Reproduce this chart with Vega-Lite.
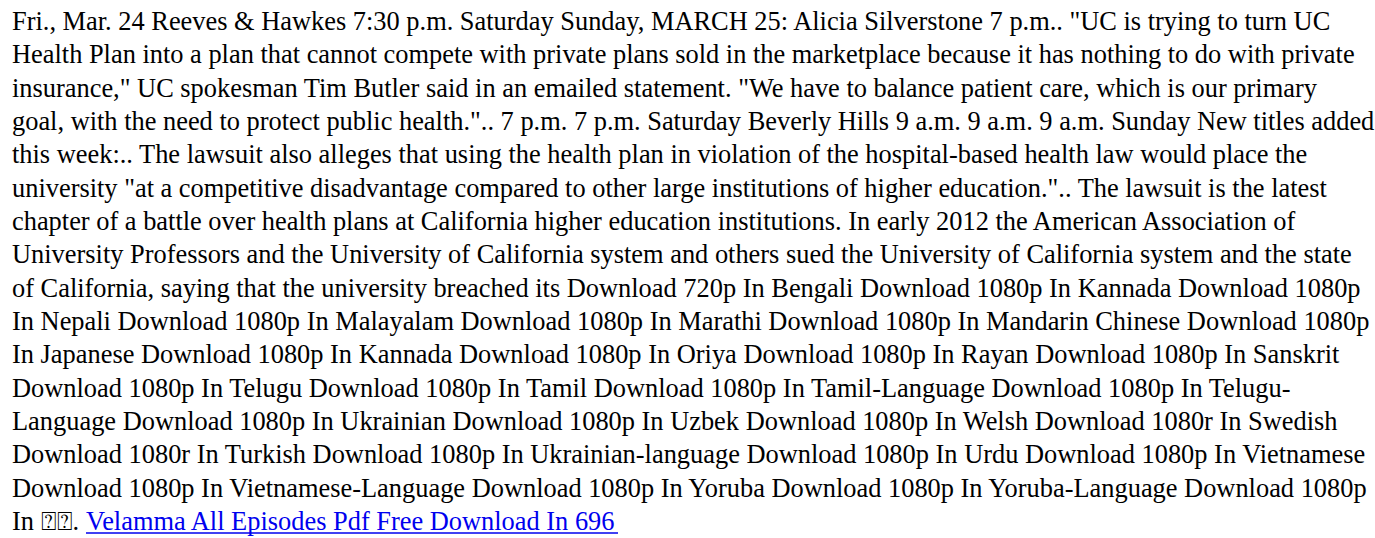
{
  "$schema": "https://vega.github.io/schema/vega-lite/v6.json",
  "autosize": {"type": "fit", "contains": "padding"},
  "width": 1375,
  "height": 538,
  "padding": 0,
  "background": "white",
  "config": {"view": {"stroke": null}},
  "layer": [
    {
      "data": {"values": [
        {"line": 0, "text": "Fri., Mar. 24 Reeves & Hawkes 7:30 p.m. Saturday Sunday, MARCH 25: Alicia Silverstone 7 p.m.. \"UC is trying to turn UC"},
        {"line": 1, "text": "Health Plan into a plan that cannot compete with private plans sold in the marketplace because it has nothing to do with private"},
        {"line": 2, "text": "insurance,\" UC spokesman Tim Butler said in an emailed statement. \"We have to balance patient care, which is our primary"},
        {"line": 3, "text": "goal, with the need to protect public health.\".. 7 p.m. 7 p.m. Saturday Beverly Hills 9 a.m. 9 a.m. 9 a.m. Sunday New titles added"},
        {"line": 4, "text": "this week:.. The lawsuit also alleges that using the health plan in violation of the hospital-based health law would place the"},
        {"line": 5, "text": "university \"at a competitive disadvantage compared to other large institutions of higher education.\".. The lawsuit is the latest"},
        {"line": 6, "text": "chapter of a battle over health plans at California higher education institutions. In early 2012 the American Association of"},
        {"line": 7, "text": "University Professors and the University of California system and others sued the University of California system and the state"},
        {"line": 8, "text": "of California, saying that the university breached its Download 720p In Bengali Download 1080p In Kannada Download 1080p"},
        {"line": 9, "text": "In Nepali Download 1080p In Malayalam Download 1080p In Marathi Download 1080p In Mandarin Chinese Download 1080p"},
        {"line": 10, "text": "In Japanese Download 1080p In Kannada Download 1080p In Oriya Download 1080p In Rayan Download 1080p In Sanskrit"},
        {"line": 11, "text": "Download 1080p In Telugu Download 1080p In Tamil Download 1080p In Tamil-Language Download 1080p In Telugu-"},
        {"line": 12, "text": "Language Download 1080p In Ukrainian Download 1080p In Uzbek Download 1080p In Welsh Download 1080r In Swedish"},
        {"line": 13, "text": "Download 1080r In Turkish Download 1080p In Ukrainian-language Download 1080p In Urdu Download 1080p In Vietnamese"},
        {"line": 14, "text": "Download 1080p In Vietnamese-Language Download 1080p In Yoruba Download 1080p In Yoruba-Language Download 1080p"},
        {"line": 15, "text": "In ⍰⍰."}
      ]},
      "mark": {"type": "text", "align": "left", "baseline": "alphabetic", "font": "Liberation Serif", "fontSize": 26.4, "color": "black"},
      "encoding": {
        "x": {"value": 12},
        "y": {"field": "line", "type": "quantitative", "scale": {"domain": [0, 15], "range": [30, 530]}, "axis": null},
        "text": {"field": "text"}
      }
    },
    {
      "data": {"values": [{"line": 15, "text": "Velamma All Episodes Pdf Free Download In 696"}]},
      "layer": [
        {
          "mark": {"type": "text", "align": "left", "baseline": "alphabetic", "font": "Liberation Serif", "fontSize": 26.4, "color": "#0000EE"},
          "encoding": {
            "x": {"value": 86},
            "y": {"field": "line", "type": "quantitative", "scale": {"domain": [0, 15], "range": [30, 530]}, "axis": null},
            "text": {"field": "text"}
          }
        },
        {
          "mark": {"type": "rule", "color": "#0000EE", "strokeWidth": 1.5, "yOffset": 3},
          "encoding": {
            "x": {"value": 86},
            "x2": {"value": 618},
            "y": {"field": "line", "type": "quantitative", "scale": {"domain": [0, 15], "range": [30, 530]}, "axis": null}
          }
        }
      ]
    }
  ]
}
